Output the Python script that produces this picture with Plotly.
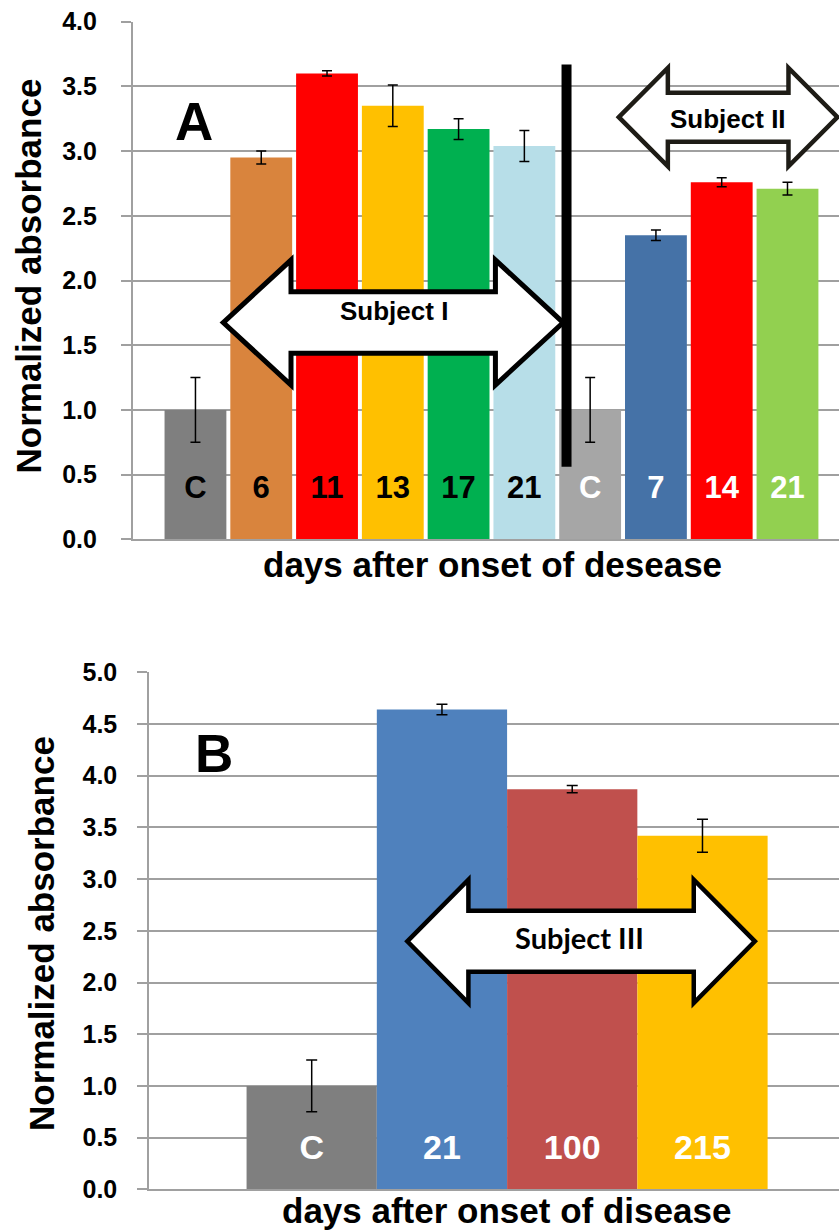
import plotly.graph_objects as go

# ---- Panel A: subjects I and II ----
a_labels = ["C", "6", "11", "13", "17", "21", "C", "7", "14", "21"]
a_values = [1.00, 2.95, 3.60, 3.35, 3.17, 3.04, 1.00, 2.35, 2.76, 2.71]
a_errors = [0.25, 0.05, 0.02, 0.16, 0.08, 0.12, 0.25, 0.04, 0.035, 0.05]
a_colors = ["#7F7F7F", "#D9843D", "#FF0000", "#FFC000", "#00B050",
            "#B7DEE8", "#A6A6A6", "#4572A7", "#FF0000", "#92D050"]
a_label_colors = ["black"] * 6 + ["white"] * 4

# ---- Panel B: subject III ----
b_labels = ["C", "21", "100", "215"]
b_values = [1.00, 4.64, 3.87, 3.42]
b_errors = [0.25, 0.05, 0.035, 0.16]
b_colors = ["#7F7F7F", "#4F81BD", "#C0504D", "#FFC000"]

W, H = 839, 1232
SANS = "Liberation Sans, Arial, sans-serif"
GRID = "#A0A0A0"
LABEL_Y = 0.38


def double_arrow(xl, xr, yc, head, head_half, shaft_half):
    pts = [(xl, yc), (xl + head, yc + head_half), (xl + head, yc + shaft_half),
           (xr - head, yc + shaft_half), (xr - head, yc + head_half), (xr, yc),
           (xr - head, yc - head_half), (xr - head, yc - shaft_half),
           (xl + head, yc - shaft_half), (xl + head, yc - head_half)]
    return "M " + " L ".join(f"{x:.4f},{y:.4f}" for x, y in pts) + " Z"


fig = go.Figure()

xa = list(range(len(a_labels)))
xb = list(range(len(b_labels)))

fig.add_trace(go.Bar(
    x=xa, y=a_values, marker=dict(color=a_colors, line=dict(width=0)),
    error_y=dict(type="data", array=a_errors, color="black", thickness=1.5, width=5),
    xaxis="x", yaxis="y", showlegend=False,
))
fig.add_trace(go.Scatter(
    x=xa, y=[LABEL_Y] * len(xa), mode="text", text=a_labels,
    textfont=dict(family=SANS, size=31, color=a_label_colors, weight="bold"),
    textposition="middle center", xaxis="x", yaxis="y", showlegend=False,
    hoverinfo="skip",
))

# Panel B bars touch each other (no gap)
fig.add_trace(go.Bar(
    x=xb, y=b_values, width=1.0, marker=dict(color=b_colors, line=dict(width=0)),
    error_y=dict(type="data", array=b_errors, color="black", thickness=1.5, width=5.5),
    xaxis="x2", yaxis="y2", showlegend=False,
))
fig.add_trace(go.Scatter(
    x=xb, y=[LABEL_Y] * len(xb), mode="text", text=b_labels,
    textfont=dict(family=SANS, size=34, color="white", weight="bold"),
    textposition="middle center", xaxis="x2", yaxis="y2", showlegend=False,
    hoverinfo="skip",
))

yaxis_common = dict(
    dtick=0.5, tickformat=".1f", showgrid=True, gridcolor=GRID, gridwidth=1.5,
    ticks="outside", ticklen=10, tickcolor=GRID, tickwidth=1.5,
    showline=True, linecolor=GRID, linewidth=1.5, zeroline=False, automargin=False,
    tickfont=dict(family=SANS, size=25, color="black", weight="bold"),
)
xaxis_common = dict(
    showticklabels=False, ticks="", showgrid=False, zeroline=False, automargin=False,
    showline=True, linecolor=GRID, linewidth=1.5,
)

fig.update_layout(
    width=W, height=H, margin=dict(l=0, r=0, t=0, b=0, autoexpand=False),
    paper_bgcolor="white", plot_bgcolor="white",
    bargap=0.06,
    xaxis=dict(domain=[132.7 / W, 1], range=[-0.954, 9.783], anchor="y", **xaxis_common),
    yaxis=dict(domain=[1 - 539.3 / H, 1 - 21.7 / H], range=[0, 4], anchor="x",
               ticklabelstandoff=19, **yaxis_common),
    xaxis2=dict(domain=[149 / W, 1], range=[-1.249, 4.048], anchor="y2", **xaxis_common),
    yaxis2=dict(domain=[1 - 1189.3 / H, 1 - 672.3 / H], range=[0, 5], anchor="x2",
                ticklabelstandoff=15, **yaxis_common),
)

shapes = [
    # divider between subject I and subject II
    dict(type="line", xref="x", yref="y", x0=5.641, x1=5.641, y0=0.561, y1=3.67,
         line=dict(color="black", width=10), layer="above"),
    dict(type="path", xref="x", yref="y",
         path=double_arrow(0.4225, 5.59, 1.675, 1.03, 0.483, 0.238),
         fillcolor="white", line=dict(color="black", width=5), layer="above"),
    dict(type="path", xref="x", yref="y",
         path=double_arrow(6.436, 9.76, 3.262, 0.745, 0.380, 0.189),
         fillcolor="white", line=dict(color="#1E1C16", width=4.5), layer="above"),
    dict(type="path", xref="x2", yref="y2",
         path=double_arrow(0.734, 3.402, 2.398, 0.469, 0.597, 0.295),
         fillcolor="white", line=dict(color="black", width=4.5), layer="above"),
]
fig.update_layout(shapes=shapes)


def note(text, x, y, font, xref="paper", yref="paper", angle=0):
    return dict(text=text, xref=xref, yref=yref, x=x, y=y, textangle=angle,
                xanchor="center", yanchor="middle", showarrow=False, font=font)


title_font = dict(family=SANS, size=35, color="black", weight="bold")
panel_font = dict(family=SANS, size=53, color="black", weight="bold")
subj_font = dict(family=SANS, size=26, color="black", weight="bold")
annotations = [
    note("A", -0.015, 3.228, panel_font, "x", "y"),
    note("B", -0.75, 4.217, panel_font, "x2", "y2"),
    note("Subject I", 3.02, (539.3 - 311) / 129.4, subj_font, "x", "y"),
    note("Subject II", (728 - 195.5) / 65.8, (539.3 - 119.3) / 129.4, subj_font, "x", "y"),
    note("Subject III", 2.059, (1189.3 - 937) / 103.4,
         dict(family="Lato, sans-serif", size=29, color="black", weight="bold"), "x2", "y2"),
    note("Normalized absorbance", 27.5 / W, 1 - 276 / H, title_font, angle=-90),
    note("Normalized absorbance", 41 / W, 1 - 934 / H, title_font, angle=-90),
    note("days after onset of desease", 492.5 / W, 1 - 564.6 / H, title_font),
    note("days after onset of disease", 506.5 / W, 1 - 1210 / H, title_font),
]
fig.update_layout(annotations=annotations)

fig.write_html("out.html")
